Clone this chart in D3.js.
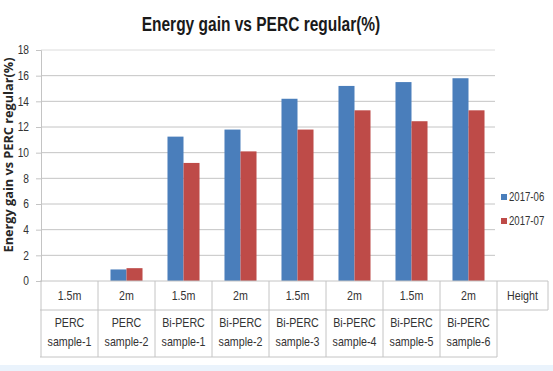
<!DOCTYPE html>
<html>
<head>
<meta charset="utf-8">
<script src="https://cdn.jsdelivr.net/npm/d3@7"></script>
<style>
  body { margin: 0; background: #fff; }
  svg { display: block; }
  text { font-family: "Liberation Sans", Arial, sans-serif; fill: #333; }
</style>
</head>
<body>
<svg id="chart"></svg>
<script>
// Chart data
const heights = ['1.5m', '2m', '1.5m', '2m', '1.5m', '2m', '1.5m', '2m'];
const samples = ['PERC|sample-1', 'PERC|sample-2', 'Bi-PERC|sample-1', 'Bi-PERC|sample-2',
                 'Bi-PERC|sample-3', 'Bi-PERC|sample-4', 'Bi-PERC|sample-5', 'Bi-PERC|sample-6'];
const seriesNames = ['2017-06', '2017-07'];
const june = [0, 0.9, 11.25, 11.8, 14.2, 15.2, 15.5, 15.8];
const july = [0, 1.0, 9.2, 10.1, 11.8, 13.3, 12.45, 13.3];
const yTicks = [0, 2, 4, 6, 8, 10, 12, 14, 16, 18];

const width = 553, height = 371;
const svg = d3.select('#chart').attr('width', width).attr('height', height);

const plot = { left: 41, right: 497, top: 50, bottom: 281 };
const tableRow1 = 310, tableRow2 = 357, tableRight = 548;
const colors = ['#4a7ebb', '#be4b48'];
const gridColor = '#c4c4c4';

// squeeze Liberation text horizontally so it reads like the narrow office font
const condense = (sel, factor) => sel.each(function() {
    const w = this.getComputedTextLength();
    d3.select(this).attr('textLength', w * factor).attr('lengthAdjust', 'spacingAndGlyphs');
});

// bottom light strip
svg.append('rect').attr('x', 0).attr('y', 365).attr('width', width).attr('height', 6).attr('fill', '#eaf3fc');

// title
svg.append('text')
    .attr('x', 261).attr('y', 31)
    .attr('text-anchor', 'middle')
    .style('font-size', '20px').style('font-weight', 'bold').style('fill', '#1a1a1a')
    .text('Energy gain vs PERC regular(%)')
    .call(condense, 0.775);

// scales
const x = d3.scaleBand().domain(d3.range(heights.length)).range([plot.left, plot.right]);
const y = d3.scaleLinear().domain([0, 18]).range([plot.bottom, plot.top]);
const x1 = d3.scaleBand().domain([0, 1]).range([0, x.bandwidth()]).paddingOuter(0.78).paddingInner(0);

// gridlines
svg.append('g').selectAll('line').data(yTicks.filter(d => d > 0)).join('line')
    .attr('x1', plot.left).attr('x2', 495)
    .attr('y1', d => y(d)).attr('y2', d => y(d))
    .attr('stroke', (d) => d === 18 ? '#dcdcdc' : gridColor).attr('stroke-width', 1);

// y axis
const yAxis = svg.append('g')
    .attr('transform', `translate(${plot.left},0)`)
    .call(d3.axisLeft(y).tickValues(yTicks).tickSize(5).tickPadding(7));
yAxis.select('.domain').attr('stroke', gridColor);
yAxis.selectAll('.tick line').attr('stroke', gridColor);
yAxis.selectAll('.tick text').style('font-size', '12px').style('font-family', '"Liberation Sans", sans-serif').attr('fill', '#404040')
    .call(condense, 0.85);

// y axis title
svg.append('text')
    .attr('transform', `translate(13,155) rotate(-90)`)
    .attr('text-anchor', 'middle')
    .style('font-size', '12px').style('font-weight', 'bold').style('font-family', '"Open Sans", sans-serif').style('fill', '#262626')
    .text('Energy gain vs PERC regular(%)')
    .each(function() { d3.select(this).attr('textLength', 195).attr('lengthAdjust', 'spacingAndGlyphs'); });

// bars
const series = [june, july];
const groups = svg.append('g').selectAll('g').data(series).join('g')
    .attr('fill', (d, i) => colors[i]);
groups.each(function(vals, si) {
    d3.select(this).selectAll('rect').data(vals).join('rect')
        .attr('x', (d, i) => x(i) + x1(si))
        .attr('width', x1.bandwidth())
        .attr('y', d => y(d))
        .attr('height', d => y(0) - y(d));
});

// table below the axis
const table = svg.append('g').attr('stroke', gridColor).attr('stroke-width', 1);
table.append('line').attr('x1', plot.left - 1).attr('x2', tableRight).attr('y1', plot.bottom).attr('y2', plot.bottom);
table.append('line').attr('x1', plot.left - 1).attr('x2', tableRight).attr('y1', tableRow1).attr('y2', tableRow1);
table.append('line').attr('x1', plot.left - 1).attr('x2', plot.right).attr('y1', tableRow2).attr('y2', tableRow2);
table.selectAll('.vline').data(d3.range(heights.length + 1)).join('line')
    .attr('class', 'vline')
    .attr('x1', i => i < heights.length ? x(i) : plot.right)
    .attr('x2', i => i < heights.length ? x(i) : plot.right)
    .attr('y1', plot.bottom).attr('y2', tableRow2);
table.append('line').attr('x1', tableRight).attr('x2', tableRight).attr('y1', plot.bottom).attr('y2', tableRow1);

svg.append('g').selectAll('text').data(heights).join('text')
    .attr('x', (d, i) => x(i) + x.bandwidth() / 2)
    .attr('y', 300)
    .attr('text-anchor', 'middle')
    .style('font-size', '13px')
    .text(d => d)
    .call(condense, 0.82);
svg.append('text').attr('x', (plot.right + tableRight) / 2).attr('y', 300)
    .attr('text-anchor', 'middle').style('font-size', '13px').text('Height')
    .call(condense, 0.82);

const sampleRows = [0, 1];
sampleRows.forEach(r => {
    svg.append('g').selectAll('text').data(samples).join('text')
        .attr('x', (d, i) => x(i) + x.bandwidth() / 2)
        .attr('y', 327 + r * 19)
        .attr('text-anchor', 'middle')
        .style('font-size', '13px')
        .text(d => d.split('|')[r])
        .call(condense, 0.82);
});

// legend
const legend = svg.append('g').selectAll('g').data(seriesNames).join('g')
    .attr('transform', (d, i) => `translate(501,${198 + i * 24})`);
legend.append('rect').attr('x', 0).attr('y', -4).attr('width', 6).attr('height', 6).attr('fill', (d, i) => colors[i]);
legend.append('text').attr('x', 8).attr('y', 3).style('font-size', '12px').text(d => d)
    .call(condense, 0.8);
</script>
</body>
</html>
